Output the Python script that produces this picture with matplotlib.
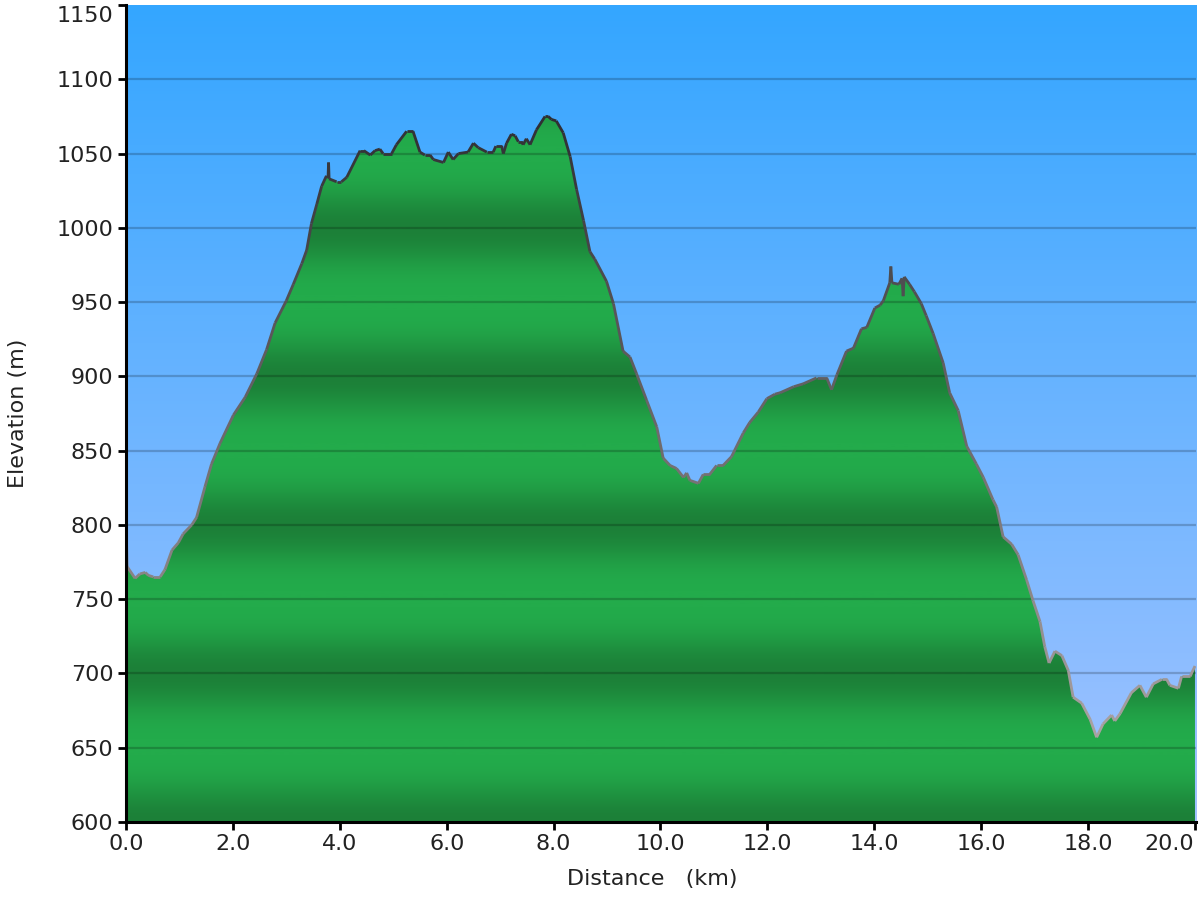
import numpy as np
import matplotlib.pyplot as plt
from matplotlib.colors import LinearSegmentedColormap
from matplotlib.collections import LineCollection
from matplotlib.patches import Polygon
from matplotlib.transforms import ScaledTranslation

# elevation profile
distance_km = [0.00, 0.02, 0.17, 0.26, 0.36, 0.42, 0.51, 0.64, 0.73, 0.86,
               0.98, 1.07, 1.23, 1.32, 1.48, 1.60, 1.76, 2.01, 2.23, 2.45,
               2.63, 2.79, 3.00, 3.13, 3.29, 3.38, 3.47, 3.57, 3.66, 3.75,
               3.78, 3.79, 3.80, 3.94, 4.03, 4.13, 4.38, 4.45, 4.57, 4.66,
               4.75, 4.81, 4.97, 5.06, 5.25, 5.37, 5.50, 5.59, 5.69, 5.75,
               5.94, 6.03, 6.12, 6.22, 6.40, 6.50, 6.59, 6.75, 6.87, 6.92,
               7.03, 7.06, 7.12, 7.21, 7.28, 7.34, 7.40, 7.43, 7.49, 7.56,
               7.68, 7.84, 7.90, 7.96, 8.05, 8.18, 8.31, 8.43, 8.56, 8.68,
               8.77, 8.99, 9.12, 9.30, 9.43, 9.55, 9.74, 9.93, 10.05, 10.18,
               10.30, 10.43, 10.49, 10.55, 10.71, 10.80, 10.92, 11.05, 11.17, 11.33,
               11.55, 11.67, 11.83, 11.99, 12.14, 12.24, 12.49, 12.67, 12.92, 13.11,
               13.20, 13.30, 13.48, 13.61, 13.76, 13.86, 14.01, 14.11, 14.17, 14.29,
               14.31, 14.33, 14.46, 14.52, 14.54, 14.56, 14.66, 14.75, 14.88, 14.97,
               15.10, 15.29, 15.41, 15.57, 15.73, 15.91, 16.04, 16.22, 16.29, 16.41,
               16.57, 16.69, 16.85, 16.97, 17.10, 17.19, 17.27, 17.38, 17.51, 17.63,
               17.72, 17.88, 18.04, 18.16, 18.28, 18.44, 18.50, 18.60, 18.81, 18.97,
               19.09, 19.22, 19.38, 19.47, 19.53, 19.69, 19.75, 19.91, 20.00]
elevation_m = [806, 772, 764, 767, 768, 766, 765, 765, 770, 783,
               788, 794, 800, 805, 826, 841, 855, 874, 886, 902,
               918, 936, 951, 962, 976, 985, 1003, 1016, 1028, 1035,
               1034, 1044, 1033, 1031, 1031, 1034, 1052, 1052, 1049, 1052,
               1053, 1050, 1050, 1056, 1065, 1065, 1051, 1049, 1049, 1046,
               1044, 1051, 1046, 1050, 1051, 1057, 1054, 1051, 1051, 1055,
               1055, 1050, 1057, 1063, 1062, 1058, 1058, 1056, 1060, 1056,
               1066, 1075, 1075, 1073, 1072, 1064, 1048, 1026, 1005, 984,
               979, 964, 949, 917, 913, 902, 884, 866, 845, 840,
               838, 832, 835, 830, 828, 834, 834, 840, 840, 846,
               862, 869, 876, 885, 888, 889, 893, 895, 899, 899,
               891, 901, 917, 919, 932, 933, 946, 948, 951, 963,
               974, 963, 962, 966, 954, 967, 962, 957, 949, 941,
               929, 909, 889, 877, 853, 841, 832, 817, 812, 792,
               787, 780, 763, 749, 735, 718, 707, 715, 712, 702,
               684, 680, 669, 657, 666, 672, 668, 673, 687, 692,
               684, 693, 696, 696, 692, 690, 698, 698, 705]

x_ticks = [0, 2, 4, 6, 8, 10, 12, 14, 16, 18, 20]
y_ticks = [600, 650, 700, 750, 800, 850, 900, 950, 1000, 1050, 1100, 1150]

x_max = 20.02
y_min, y_max = 600, 1150

fig = plt.figure(figsize=(12, 9), dpi=100)
ax = fig.add_axes([0.105, 0.0867, 0.8917, 0.9077])

# sky gradient
sky = LinearSegmentedColormap.from_list('sky', ['#A3C3FF', '#34A6FF'])
ax.imshow(np.linspace(0, 1, 256).reshape(-1, 1), cmap=sky, origin='lower',
          extent=[0, x_max, y_min, y_max], aspect='auto', zorder=0)

# green fill with darker bands at every 100 m
e = np.linspace(y_min, y_max, 1100)
shade = ((1 + np.cos(2 * np.pi * (e - 600) / 100)) / 2) ** 1.6
green = LinearSegmentedColormap.from_list('green', ['#23AB4B', '#1C8038'])
bands = ax.imshow(shade.reshape(-1, 1), cmap=green, origin='lower', vmin=0, vmax=1,
                  extent=[0, x_max, y_min, y_max], aspect='auto', zorder=1)
verts = ([(distance_km[0], y_min)] + list(zip(distance_km, elevation_m))
         + [(distance_km[-1], y_min)])
area = Polygon(verts, closed=True, facecolor='none', edgecolor='none')
ax.add_patch(area)
bands.set_clip_path(area)

# horizontal grid
for v in y_ticks[1:-1]:
    ax.axhline(v, color='black', alpha=0.2, lw=1.6, zorder=2)

# outline, darker higher up
pts = np.column_stack([distance_km, elevation_m])
segs = np.stack([pts[:-1], pts[1:]], axis=1)
mid = (pts[:-1, 1] + pts[1:, 1]) / 2
outline_cmap = LinearSegmentedColormap.from_list('outline', ['#ABA4A4', '#2E2E33'])
lc = LineCollection(segs, cmap=outline_cmap, norm=plt.Normalize(650, 1075),
                    linewidths=2, zorder=3)
lc.set_array(mid)
ax.add_collection(lc)

ax.set_xlim(0, x_max)
ax.set_ylim(y_min, y_max)
ax.set_xticks(x_ticks)
ax.set_xticklabels([f'{t:.1f}' for t in x_ticks])
ax.set_yticks(y_ticks)

for side in ['top', 'right']:
    ax.spines[side].set_visible(False)
for side in ['left', 'bottom']:
    ax.spines[side].set_linewidth(2.2)
    ax.spines[side].set_color('black')
    ax.spines[side].set_zorder(5)

ax.tick_params(direction='out', length=6, width=2, labelsize=16,
               labelcolor='#222222', pad=3)

# keep the end labels inside the figure, as in the reference
last_x = ax.get_xticklabels()[-1]
last_x.set_horizontalalignment('right')
last_x.set_transform(last_x.get_transform() + ScaledTranslation(-0.01, 0, fig.dpi_scale_trans))
top_y = ax.get_yticklabels()[-1]
top_y.set_verticalalignment('top')
top_y.set_transform(top_y.get_transform() + ScaledTranslation(0, -0.01, fig.dpi_scale_trans))

ax.set_ylabel('Elevation (m)', fontsize=16, color='#222222')
ax.set_xlabel('Distance   (km)', fontsize=16, color='#222222')
ax.yaxis.set_label_coords(-0.092, 0.5)
ax.xaxis.set_label_coords(0.4916, -0.058)

fig.savefig('out.png', dpi=100)
